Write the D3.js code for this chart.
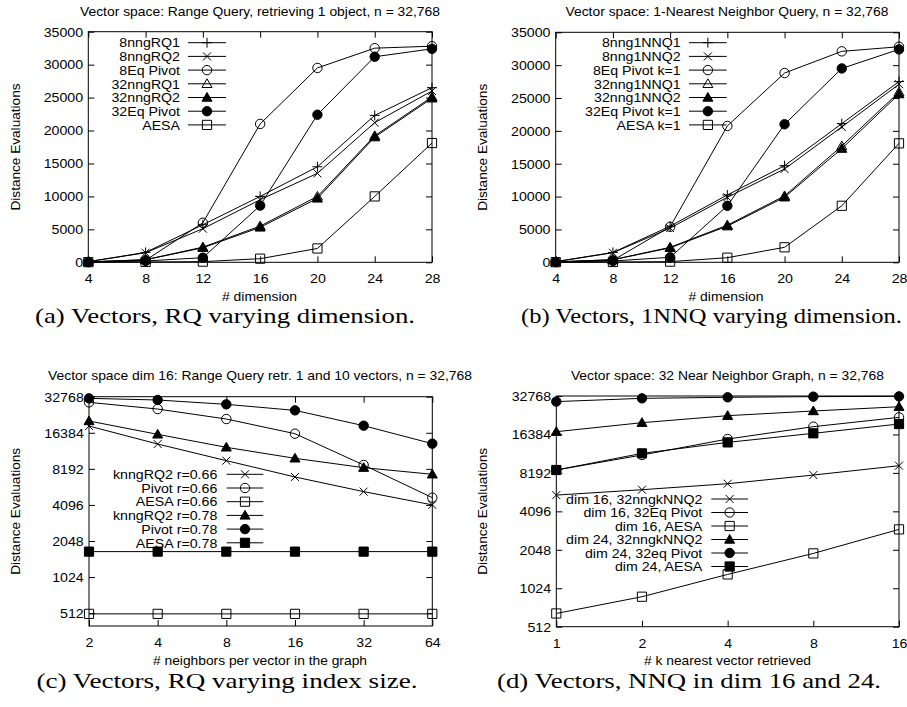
<!DOCTYPE html>
<html><head><meta charset="utf-8">
<script src="https://cdn.jsdelivr.net/npm/d3@7"></script>
<style>
body{margin:0;background:#fff}
svg{display:block}
text{font-family:"Liberation Sans",Arial,Helvetica,sans-serif;fill:#000}
.cap{font-family:"Liberation Serif","Times New Roman",serif}
</style>
</head><body><svg id="c" width="907" height="707"></svg>
<script>
// ---------- DATA ----------
// (a) Range query varying dimension
const dimsA = [4, 8, 12, 16, 20, 24, 28];
const a_8nngRQ1   = [100, 1500, 5700, 10000, 14500, 22300, 26500];
const a_8nngRQ2   = [100, 1450, 5100, 9500, 13500, 21200, 26000];
const a_8EqPivot  = [50, 300, 6000, 21000, 29500, 32500, 32800];
const a_32nngRQ1  = [60, 400, 2300, 5500, 10000, 19200, 25100];
const a_32nngRQ2  = [60, 380, 2200, 5300, 9700, 19000, 24900];
const a_32EqPivot = [30, 200, 700, 8600, 22400, 31200, 32400];
const a_AESA      = [20, 50, 100, 550, 2100, 10000, 18100];
const namesA = ["8nngRQ1", "8nngRQ2", "8Eq Pivot", "32nngRQ1", "32nngRQ2", "32Eq Pivot", "AESA"];

// (b) 1NN query varying dimension
const dimsB = [4, 8, 12, 16, 20, 24, 28];
const b_8nng1NNQ1  = [100, 1500, 5500, 10250, 14700, 21100, 27500];
const b_8nng1NNQ2  = [100, 1450, 5200, 9900, 14200, 20600, 27100];
const b_8EqPivot   = [50, 300, 5400, 20750, 28800, 32100, 32800];
const b_32nng1NNQ1 = [60, 400, 2280, 5650, 10100, 17700, 25900];
const b_32nng1NNQ2 = [60, 380, 2200, 5500, 9900, 17300, 25600];
const b_32EqPivot  = [30, 200, 760, 8600, 21000, 29500, 32400];
const b_AESA       = [20, 50, 100, 700, 2280, 8600, 18100];
const namesB = ["8nng1NNQ1", "8nng1NNQ2", "8Eq Pivot k=1", "32nng1NNQ1", "32nng1NNQ2", "32Eq Pivot k=1", "AESA k=1"];

// (c) RQ varying index size (log scales)
const neighC = [2, 4, 8, 16, 32, 64];
const c_knng066  = [18650, 13200, 9590, 7010, 5290, 4100];
const c_pivot066 = [29400, 25850, 21340, 16100, 8820, 4710];
const c_aesa066  = [505, 505, 505, 505, 505, 505];
const c_knng078  = [20540, 15900, 12390, 10030, 8380, 7380];
const c_pivot078 = [31740, 30760, 28290, 25200, 18780, 13290];
const c_aesa078  = [1670, 1670, 1670, 1670, 1670, 1670];
const namesC = ["knngRQ2 r=0.66", "Pivot r=0.66", "AESA r=0.66", "knngRQ2 r=0.78", "Pivot r=0.78", "AESA r=0.78"];

// (d) NNQ in dim 16 and 24
const kD = [1, 2, 4, 8, 16];
const d_16nng   = [5490, 6050, 6740, 7880, 9330];
const d_16pivot = [8630, 11310, 15080, 18850, 22300];
const d_16aesa  = [650, 879, 1314, 1919, 2959];
const d_24nng   = [17220, 20250, 22980, 25000, 27010];
const d_24pivot = [29620, 31420, 32000, 32400, 32550];
const d_24aesa  = [8630, 11650, 14200, 16720, 19770];
const namesD = ["dim 16, 32nngkNNQ2", "dim 16, 32Eq Pivot", "dim 16, AESA", "dim 24, 32nngkNNQ2", "dim 24, 32eq Pivot", "dim 24, AESA"];

// tick labels
const linTicks = [0, 5000, 10000, 15000, 20000, 25000, 30000, 35000];
const logTicks = [512, 1024, 2048, 4096, 8192, 16384, 32768];

const titles = [
  "Vector space: Range Query, retrieving 1 object, n = 32,768",
  "Vector space: 1-Nearest Neighbor Query, n = 32,768",
  "Vector space dim 16: Range Query retr. 1 and 10 vectors, n = 32,768",
  "Vector space: 32 Near Neighbor Graph, n = 32,768"
];
const xLabels = ["# dimension", "# dimension", "# neighbors per vector in the graph", "# k nearest vector retrieved"];
const yLabel = "Distance Evaluations";
const captions = [
  "(a) Vectors, RQ varying dimension.",
  "(b) Vectors, 1NNQ varying dimension.",
  "(c) Vectors, RQ varying index size.",
  "(d) Vectors, NNQ in dim 16 and 24."
];

// ---------- DRAWING ----------
const svg = d3.select("#c");
const SX = 1.05;
const FS = 13.5;
const R = 4.7;
const SYM = {
  plus:   {d: "M-5,0H5M0,-5V5", fill: "none"},
  cross:  {d: "M-4,-4L4,4M-4,4L4,-4", fill: "none"},
  circle: {d: `M${R},0A${R},${R} 0 1,1 ${-R},0A${R},${R} 0 1,1 ${R},0Z`, fill: "none"},
  fcircle:{d: `M${R},0A${R},${R} 0 1,1 ${-R},0A${R},${R} 0 1,1 ${R},0Z`, fill: "#000"},
  tri:    {d: "M0,-5L5,3.7L-5,3.7Z", fill: "none"},
  ftri:   {d: "M0,-5L5,3.7L-5,3.7Z", fill: "#000"},
  square: {d: "M-4.6,-4.6H4.6V4.6H-4.6Z", fill: "none"},
  fsquare:{d: "M-4.6,-4.6H4.6V4.6H-4.6Z", fill: "#000"}
};

function marker(g, x, y, s) {
  g.append("path").attr("transform", `translate(${x},${y})`)
    .attr("d", SYM[s].d).attr("fill", SYM[s].fill)
    .attr("stroke", "#000").attr("stroke-width", 1);
}

function panel(cfg) {
  const g = svg.append("g");
  const x = cfg.xScale.range([cfg.L, cfg.Rt]);
  const y = cfg.yScale.range([cfg.B, cfg.T]);

  const ax = [
    g.append("g").attr("transform", `translate(0,${cfg.B})`)
      .call(d3.axisBottom(x).tickValues(cfg.xTicks).tickFormat(d3.format("d")).tickSizeInner(-6).tickSizeOuter(0).tickPadding(11.5)),
    g.append("g").attr("transform", `translate(${cfg.L},0)`)
      .call(d3.axisLeft(y).tickValues(cfg.yTicks).tickFormat(d3.format("d")).tickSizeInner(-6).tickSizeOuter(0).tickPadding(5)),
    g.append("g").attr("transform", `translate(0,${cfg.T})`)
      .call(d3.axisTop(x).tickValues(cfg.xTicks).tickFormat("").tickSizeInner(-6).tickSizeOuter(0)),
    g.append("g").attr("transform", `translate(${cfg.Rt},0)`)
      .call(d3.axisRight(y).tickValues(cfg.yTicks).tickFormat("").tickSizeInner(-6).tickSizeOuter(0))
  ];
  ax.forEach(a => {
    a.select(".domain").remove();
    a.selectAll("line").attr("stroke", "#000");
    a.selectAll("text").attr("font-size", FS).attr("font-family", null)
      .attr("transform", `scale(${SX},1)`);
  });

  g.append("rect").attr("x", cfg.L).attr("y", cfg.T)
    .attr("width", cfg.Rt - cfg.L).attr("height", cfg.B - cfg.T)
    .attr("fill", "none").attr("stroke", "#000").attr("stroke-width", 1);

  g.append("text").attr("x", cfg.titleX).attr("y", cfg.titleY).attr("text-anchor", "middle")
    .attr("font-size", 13).attr("textLength", cfg.titleW).attr("lengthAdjust", "spacingAndGlyphs").text(cfg.title);
  g.append("text").attr("x", cfg.xlX).attr("y", cfg.xlY).attr("text-anchor", "middle")
    .attr("font-size", 13).attr("textLength", cfg.xlW).attr("lengthAdjust", "spacingAndGlyphs").text(cfg.xLabel);
  g.append("text").attr("transform", `translate(${cfg.ylX},${(cfg.T + cfg.B) / 2}) rotate(-90)`)
    .attr("text-anchor", "middle").attr("font-size", 13)
    .attr("textLength", 127).attr("lengthAdjust", "spacingAndGlyphs").text(yLabel);
  g.append("text").attr("class", "cap").attr("x", cfg.capX).attr("y", cfg.capY).attr("text-anchor", "middle")
    .attr("font-size", 21).attr("textLength", cfg.capW).attr("lengthAdjust", "spacingAndGlyphs").text(cfg.caption);

  const line = d3.line().x(d => x(d[0])).y(d => y(d[1]));
  cfg.series.forEach(s => {
    const pts = cfg.xs.map((v, i) => [v, s.v[i]]);
    g.append("path").attr("d", line(pts)).attr("fill", "none").attr("stroke", "#000").attr("stroke-width", 1);
    pts.forEach(p => marker(g, x(p[0]), y(p[1]), s.m));
  });

  cfg.series.forEach((s, i) => {
    const ly = cfg.legY + i * cfg.legDy;
    g.append("text").attr("transform", `translate(${cfg.legTx},${ly}) scale(${SX},1)`)
      .attr("text-anchor", "end").attr("dy", "0.35em").attr("font-size", FS).text(s.n);
    g.append("line").attr("x1", cfg.legL1).attr("x2", cfg.legL2).attr("y1", ly).attr("y2", ly)
      .attr("stroke", "#000").attr("stroke-width", 1);
    marker(g, (cfg.legL1 + cfg.legL2) / 2, ly, s.m);
  });
}

const mk = ["plus", "cross", "circle", "tri", "ftri", "fcircle", "square"];
const mkC = ["cross", "circle", "square", "ftri", "fcircle", "fsquare"];

panel({
  L: 88.3, Rt: 432, T: 31.7, B: 262.3,
  xScale: d3.scaleLinear().domain([4, 28]), yScale: d3.scaleLinear().domain([0, 35000]),
  xTicks: dimsA, yTicks: linTicks, xs: dimsA,
  title: titles[0], titleX: 260, titleY: 16, titleW: 360,
  xLabel: xLabels[0], xlX: 259.5, xlY: 300.5, xlW: 75, ylX: 20,
  caption: captions[0], capX: 225, capY: 323, capW: 380,
  legTx: 180, legL1: 188, legL2: 226, legY: 42.7, legDy: 13.7,
  series: [a_8nngRQ1, a_8nngRQ2, a_8EqPivot, a_32nngRQ1, a_32nngRQ2, a_32EqPivot, a_AESA]
    .map((v, i) => ({v, n: namesA[i], m: mk[i]}))
});

panel({
  L: 555.7, Rt: 899, T: 32.3, B: 262.3,
  xScale: d3.scaleLinear().domain([4, 28]), yScale: d3.scaleLinear().domain([0, 35000]),
  xTicks: dimsB, yTicks: linTicks, xs: dimsB,
  title: titles[1], titleX: 727, titleY: 16, titleW: 323,
  xLabel: xLabels[1], xlX: 726, xlY: 300.5, xlW: 75, ylX: 487,
  caption: captions[1], capX: 711.5, capY: 323, capW: 381,
  legTx: 680.7, legL1: 689, legL2: 726.7, legY: 42.7, legDy: 13.7,
  series: [b_8nng1NNQ1, b_8nng1NNQ2, b_8EqPivot, b_32nng1NNQ1, b_32nng1NNQ2, b_32EqPivot, b_AESA]
    .map((v, i) => ({v, n: namesB[i], m: mk[i]}))
});

panel({
  L: 89, Rt: 432.3, T: 396.7, B: 626,
  xScale: d3.scaleLog().base(2).domain([2, 64]), yScale: d3.scaleLog().base(2).domain([400, 32768]),
  xTicks: neighC, yTicks: logTicks, xs: neighC,
  title: titles[2], titleX: 260, titleY: 380, titleW: 424,
  xLabel: xLabels[2], xlX: 260, xlY: 665, xlW: 214, ylX: 20,
  caption: captions[2], capX: 227, capY: 688, capW: 381,
  legTx: 217.3, legL1: 226.7, legL2: 263.3, legY: 474.3, legDy: 13.7,
  series: [c_knng066, c_pivot066, c_aesa066, c_knng078, c_pivot078, c_aesa078]
    .map((v, i) => ({v, n: namesC[i], m: mkC[i]}))
});

panel({
  L: 556.3, Rt: 899, T: 396, B: 626.7,
  xScale: d3.scaleLog().base(2).domain([1, 16]), yScale: d3.scaleLog().base(2).domain([512, 32768]),
  xTicks: kD, yTicks: logTicks, xs: kD,
  title: titles[3], titleX: 727.4, titleY: 380, titleW: 313,
  xLabel: xLabels[3], xlX: 727.5, xlY: 665, xlW: 167, ylX: 487,
  caption: captions[3], capX: 689, capY: 688, capW: 384,
  legTx: 702.3, legL1: 711.3, legL2: 748, legY: 499, legDy: 13.5,
  series: [d_16nng, d_16pivot, d_16aesa, d_24nng, d_24pivot, d_24aesa]
    .map((v, i) => ({v, n: namesD[i], m: mkC[i]}))
});
</script>
</body></html>
